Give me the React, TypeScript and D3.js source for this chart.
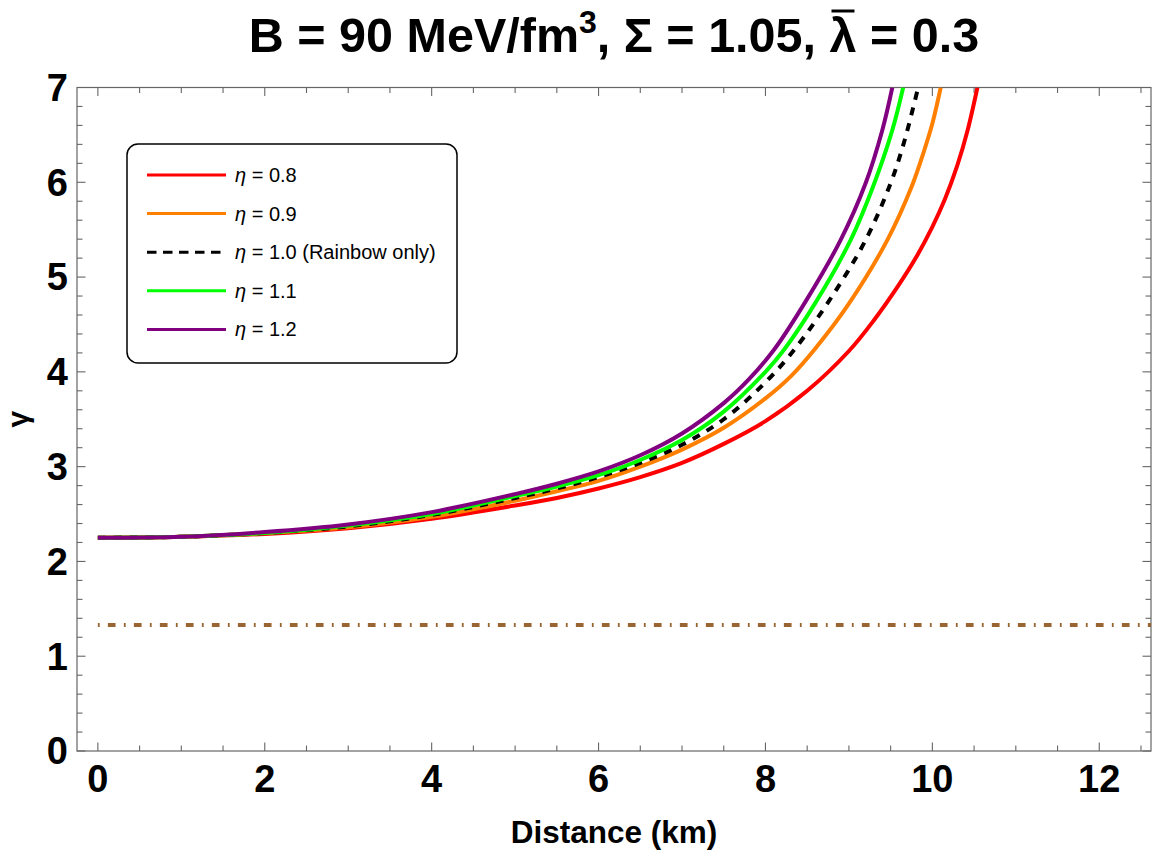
import React, { useEffect, useRef } from "react";
import * as d3 from "d3";

const distEta08 = [0, 1, 2, 3, 4, 5, 5.5, 6, 6.5, 7, 7.5, 8, 8.5, 9, 9.3, 9.6, 9.8, 10.0, 10.15, 10.3, 10.42, 10.54];
const gammaEta08 = [2.25, 2.26, 2.29, 2.35, 2.45, 2.59, 2.67, 2.77, 2.89, 3.04, 3.24, 3.48, 3.8, 4.22, 4.545, 4.92, 5.2, 5.53, 5.82, 6.18, 6.54, 7.0];

const distEta09 = [0, 1, 2, 3, 4, 5, 5.5, 6, 6.5, 7, 7.5, 8, 8.3, 8.6, 9, 9.46, 9.75, 9.9, 10.0, 10.1];
const gammaEta09 = [2.25, 2.26, 2.3, 2.36, 2.47, 2.64, 2.74, 2.85, 3.0, 3.18, 3.41, 3.72, 3.95, 4.25, 4.72, 5.39, 5.95, 6.33, 6.62, 7.0];

const distEta10 = [0, 1, 2, 3, 4, 5, 5.5, 6, 6.5, 7, 7.5, 8, 8.36, 8.8, 9.2, 9.5, 9.66, 9.83];
const gammaEta10 = [2.25, 2.26, 2.3, 2.37, 2.49, 2.67, 2.77, 2.89, 3.04, 3.23, 3.5, 3.89, 4.25, 4.8, 5.39, 5.99, 6.42, 7.0];

const distEta11 = [0, 1, 2, 3, 4, 5, 5.5, 6, 6.5, 7, 7.5, 8, 8.22, 8.6, 9.02, 9.3, 9.52, 9.65];
const gammaEta11 = [2.25, 2.26, 2.3, 2.38, 2.5, 2.69, 2.79, 2.91, 3.07, 3.28, 3.58, 4.0, 4.23, 4.73, 5.39, 5.98, 6.55, 7.0];

const distEta12 = [0, 1, 2, 3, 4, 5, 5.5, 6, 6.5, 7, 7.5, 7.8, 8.1, 8.5, 8.9, 9.2, 9.4, 9.52];
const gammaEta12 = [2.25, 2.26, 2.31, 2.39, 2.52, 2.71, 2.82, 2.95, 3.12, 3.35, 3.67, 3.92, 4.23, 4.77, 5.39, 5.99, 6.55, 7.0];

const seriesLabels = ["0.8", "0.9", "1.0 (Rainbow only)", "1.1", "1.2"];
const seriesColors = ["#ff0000", "#ff8000", "#000000", "#00ff00", "#800080"];

const criticalGamma = 1.33;

const xTicks = [0, 2, 4, 6, 8, 10, 12];
const yTicks = [0, 1, 2, 3, 4, 5, 6, 7];

const FONT = "'Liberation Sans', Arial, Helvetica, sans-serif";

export default function App() {
  const svgRef = useRef<SVGSVGElement>(null);

  useEffect(() => {
    if (!svgRef.current) return;
    const width = 1152;
    const height = 852;
    const svg = d3.select(svgRef.current);
    svg.selectAll("*").remove();
    svg.attr("width", width).attr("height", height);

    const left = 77;
    const right = 1151;
    const top = 87.5;
    const bottom = 751;

    const x = d3.scaleLinear().domain([-0.25, 12.62]).range([left, right]);
    const y = d3.scaleLinear().domain([0, 7]).range([bottom, top]);

    svg
      .append("defs")
      .append("clipPath")
      .attr("id", "plot-clip")
      .append("rect")
      .attr("x", left)
      .attr("y", top)
      .attr("width", right - left)
      .attr("height", bottom - top);

    // title
    const title = svg
      .append("text")
      .attr("x", (left + right) / 2)
      .attr("y", 52)
      .attr("text-anchor", "middle")
      .style("font-family", FONT)
      .style("font-weight", "bold")
      .style("font-size", "48.5px")
      .style("fill", "#000");
    title.append("tspan").text("B = 90 MeV/fm");
    title.append("tspan").attr("dy", -19).style("font-size", "32px").text("3");
    title.append("tspan").attr("dy", 19).text(", Σ = 1.05, ");
    title.append("tspan").text("λ");
    title.append("tspan").text(" = 0.3");
    const tNode = title.node() as SVGTextElement;
    const lamIdx = (tNode.textContent || "").indexOf("λ");
    if (lamIdx >= 0) {
      const ext = tNode.getExtentOfChar(lamIdx);
      svg
        .append("line")
        .attr("x1", ext.x + 2)
        .attr("x2", ext.x + ext.width - 2)
        .attr("y1", 11)
        .attr("y2", 11)
        .attr("stroke", "#000")
        .attr("stroke-width", 3);
    }

    // frame
    svg
      .append("rect")
      .attr("x", left)
      .attr("y", top)
      .attr("width", right - left)
      .attr("height", bottom - top)
      .attr("fill", "none")
      .attr("stroke", "#666")
      .attr("stroke-width", 1.2);

    // ticks on all four sides
    const ticks = svg.append("g").attr("stroke", "#666").attr("stroke-width", 1.1);
    const xMinor = d3.range(0, 12.61, 0.5);
    xMinor.forEach((v) => {
      const len = Math.abs(v % 2) < 1e-6 ? 8.5 : 5.5;
      ticks.append("line").attr("x1", x(v)).attr("x2", x(v)).attr("y1", bottom).attr("y2", bottom - len);
      ticks.append("line").attr("x1", x(v)).attr("x2", x(v)).attr("y1", top).attr("y2", top + len);
    });
    const yMinor = d3.range(0, 35).map((i) => i * 0.2);
    yMinor.forEach((v, i) => {
      const len = i % 5 === 0 ? 8.5 : 5.5;
      ticks.append("line").attr("x1", left).attr("x2", left + len).attr("y1", y(v)).attr("y2", y(v));
      ticks.append("line").attr("x1", right).attr("x2", right - len).attr("y1", y(v)).attr("y2", y(v));
    });

    // tick labels
    svg
      .append("g")
      .selectAll("text")
      .data(xTicks)
      .enter()
      .append("text")
      .attr("x", (d) => x(d))
      .attr("y", 792)
      .attr("text-anchor", "middle")
      .style("font-family", FONT)
      .style("font-weight", "bold")
      .style("font-size", "38px")
      .text((d) => String(d));

    svg
      .append("g")
      .selectAll("text")
      .data(yTicks)
      .enter()
      .append("text")
      .attr("x", 68)
      .attr("y", (d) => y(d))
      .attr("dy", "0.35em")
      .attr("text-anchor", "end")
      .style("font-family", FONT)
      .style("font-weight", "bold")
      .style("font-size", "38px")
      .text((d) => String(d));

    // axis labels
    svg
      .append("text")
      .attr("x", (left + right) / 2)
      .attr("y", 843)
      .attr("text-anchor", "middle")
      .style("font-family", FONT)
      .style("font-weight", "bold")
      .style("font-size", "31.5px")
      .text("Distance (km)");

    svg
      .append("text")
      .attr("transform", `translate(28,${(top + bottom) / 2}) rotate(-90)`)
      .attr("text-anchor", "middle")
      .style("font-family", FONT)
      .style("font-weight", "bold")
      .style("font-size", "30px")
      .text("γ");

    const plot = svg.append("g").attr("clip-path", "url(#plot-clip)");

    // gamma = 4/3 reference line
    plot
      .append("line")
      .attr("x1", x(0))
      .attr("x2", right)
      .attr("y1", y(criticalGamma))
      .attr("y2", y(criticalGamma))
      .attr("stroke", "#996633")
      .attr("stroke-width", 4)
      .attr("stroke-dasharray", "7.7,8.3,1.8,8.2")
      .attr("stroke-dashoffset", 16);

    const dists = [distEta08, distEta09, distEta10, distEta11, distEta12];
    const gammas = [gammaEta08, gammaEta09, gammaEta10, gammaEta11, gammaEta12];

    const line = d3
      .line<[number, number]>()
      .x((d) => x(d[0]))
      .y((d) => y(d[1]))
      .curve(d3.curveCatmullRom.alpha(0.5));

    dists.forEach((ds, i) => {
      const pts = ds.map((d, j) => [d, gammas[i][j]] as [number, number]);
      plot
        .append("path")
        .datum(pts)
        .attr("fill", "none")
        .attr("stroke", seriesColors[i])
        .attr("stroke-width", 4)
        .attr("stroke-dasharray", i === 2 ? "8,8" : null)
        .attr("d", line);
    });

    // legend
    const lg = svg.append("g");
    lg.append("rect")
      .attr("x", 127)
      .attr("y", 144)
      .attr("width", 330)
      .attr("height", 219)
      .attr("rx", 11)
      .attr("fill", "#fff")
      .attr("stroke", "#000")
      .attr("stroke-width", 1.5);

    seriesLabels.forEach((lab, i) => {
      const ry = 175 + i * 38.6;
      lg.append("line")
        .attr("x1", 147)
        .attr("x2", 226)
        .attr("y1", ry)
        .attr("y2", ry)
        .attr("stroke", seriesColors[i])
        .attr("stroke-width", 3)
        .attr("stroke-dasharray", i === 2 ? "9.5,6.5" : null);
      const t = lg
        .append("text")
        .attr("x", 235)
        .attr("y", ry)
        .attr("dy", "0.35em")
        .style("font-family", FONT)
        .style("font-size", "20px");
      t.append("tspan").style("font-style", "italic").text("η");
      t.append("tspan").text(` = ${lab}`);
    });
  }, []);

  return (
    <svg
      ref={svgRef}
      style={{ position: "absolute", left: 0, top: 0, background: "#fff" }}
    />
  );
}
